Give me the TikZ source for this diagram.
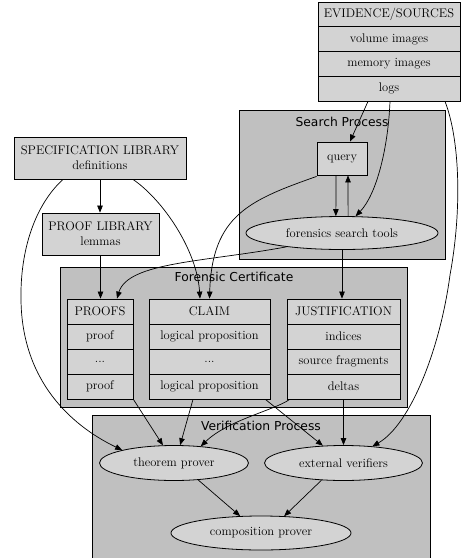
\documentclass[tikz,border=0pt]{standalone}
\usepackage{fontspec}
\newfontfamily\titlefont{DejaVu Sans}
\usetikzlibrary{arrows.meta,shapes.geometric}
\definecolor{clustergray}{HTML}{C0C0C0}
\definecolor{nodegray}{HTML}{D3D3D3}
\begin{document}
\begin{tikzpicture}[x=1pt,y=-1pt,
  cluster/.style={draw, fill=clustergray, line width=0.8pt},
  ctitle/.style={font={\titlefont\fontsize{12.3}{14}\selectfont}, inner sep=0pt},
  cell/.style={draw, fill=nodegray, line width=0.8pt, inner sep=0pt, anchor=center,
    font={\fontsize{12.5}{15}\selectfont}},
  frame/.style={draw, line width=0.8pt, inner sep=0pt, anchor=center},
  oval/.style={ellipse, draw, fill=nodegray, line width=0.8pt, inner sep=0pt,
    font={\fontsize{12.5}{15}\selectfont}},
  edge/.style={draw, line width=0.7pt, -{Triangle[length=7pt,width=5.5pt]}}]
\useasboundingbox (0,0) rectangle (461,558);

% clusters
\path[cluster] (239,110) rectangle (445,259);
\node[ctitle] (stitle) at (342,122) {Search Process};
\path[cluster] (60,267) rectangle (407,407);
\node[ctitle] (ftitle) at (234,277) {Forensic Certificate};
\path[cluster] (92,415) rectangle (430,562);
\node[ctitle] (vtitle) at (261,426) {Verification Process};

% evidence record
\node[cell, minimum width=142pt, minimum height=24.75pt] (ev1) at (389,14.375) {EVIDENCE/SOURCES};
\node[cell, minimum width=142pt, minimum height=24.75pt] (ev2) at (389,39.125) {volume images};
\node[cell, minimum width=142pt, minimum height=24.75pt] (ev3) at (389,63.875) {memory images};
\node[cell, minimum width=142pt, minimum height=24.75pt] (ev4) at (389,88.625) {logs};
\node[frame, minimum width=142pt, minimum height=99pt] (evidence) at (389,51.5) {};

% search process
\node[cell, minimum width=50pt, minimum height=33pt] (query) at (342,158.5) {query};
\node[oval, minimum width=192pt, minimum height=33pt] (fst) at (342,233) {forensics search tools};

% libraries
\node[cell, minimum width=172pt, minimum height=42pt, align=center] (spec) at (100,158)
  {SPECIFICATION LIBRARY\\definitions};
\node[cell, minimum width=117pt, minimum height=42pt, align=center] (plib) at (100.5,234)
  {PROOF LIBRARY\\lemmas};

% forensic certificate records
\node[cell, minimum width=66pt, minimum height=25pt] (p1) at (100,311.5) {PROOFS};
\node[cell, minimum width=66pt, minimum height=25pt] (p2) at (100,336.5) {proof};
\node[cell, minimum width=66pt, minimum height=25pt] (p3) at (100,361.5) {...};
\node[cell, minimum width=66pt, minimum height=25pt] (p4) at (100,386.5) {proof};
\node[frame, minimum width=66pt, minimum height=100pt] (proofs) at (100,349) {};

\node[cell, minimum width=121pt, minimum height=25pt] (c1) at (209.5,311.5) {CLAIM};
\node[cell, minimum width=121pt, minimum height=25pt] (c2) at (209.5,336.5) {logical proposition};
\node[cell, minimum width=121pt, minimum height=25pt] (c3) at (209.5,361.5) {...};
\node[cell, minimum width=121pt, minimum height=25pt] (c4) at (209.5,386.5) {logical proposition};
\node[frame, minimum width=121pt, minimum height=100pt] (claim) at (209.5,349) {};

\node[cell, minimum width=113pt, minimum height=25pt] (j1) at (343.5,311.5) {JUSTIFICATION};
\node[cell, minimum width=113pt, minimum height=25pt] (j2) at (343.5,336.5) {indices};
\node[cell, minimum width=113pt, minimum height=25pt] (j3) at (343.5,361.5) {source fragments};
\node[cell, minimum width=113pt, minimum height=25pt] (j4) at (343.5,386.5) {deltas};
\node[frame, minimum width=113pt, minimum height=100pt] (just) at (343.5,349) {};

% verification
\node[oval, minimum width=149pt, minimum height=35pt] (tp) at (174,463) {theorem prover};
\node[oval, minimum width=158pt, minimum height=35pt] (ev) at (343.5,463) {external verifiers};
\node[oval, minimum width=180pt, minimum height=34pt] (cp) at (261,533) {composition prover};

% edges
\path[edge] ([xshift=-21pt]evidence.south) -- ([xshift=8pt]query.north);
\path[edge] ([xshift=1pt]evidence.south) .. controls (388,150) and (376,195) .. (fst.51);
\path[edge] ([xshift=56pt]evidence.south) .. controls (460,140) and (462,210) .. (450,275)
  .. controls (440,350) and (410,425) .. (ev.30);
\path[edge] ([xshift=-6pt]query.south) -- (fst.110);
\path[edge] (fst.70) -- ([xshift=6pt]query.south);
\path[edge] ([yshift=-1pt]query.south west) .. controls (250,200) and (212,215) .. (claim.north);
\path[edge] (fst.194) .. controls (205,262) and (128,262) .. ([xshift=17pt]proofs.north);
\path[edge] (fst.south) -- (fst.south |- just.north);
\path[edge] (spec.south) -- (spec.south |- plib.north);
\path[edge] ([xshift=33pt]spec.south) .. controls (163,200) and (197,250) .. ([xshift=-9.5pt]claim.north);
\path[edge] ([xshift=-37pt]spec.south) .. controls (35,205) and (20,250) .. (21,300)
  .. controls (22,380) and (70,425) .. (tp.166.5);
\path[edge] (plib.south) -- (plib.south |- proofs.north);
\path[edge] (proofs.south east) -- (tp.122.5);
\path[edge] ([xshift=-16.5pt]claim.south) -- (tp.71);
\path[edge] ([xshift=-5pt]claim.south east) -- (ev.140.5);
\path[edge] ([xshift=3pt]just.south west) .. controls (275,410) and (228,420) .. (tp.32);
\path[edge] (just.south) -- (ev.north);
\path[edge] (tp.-35.8) -- (cp.141.8);
\path[edge] (ev.218) -- (cp.36.9);
\end{tikzpicture}
\end{document}
